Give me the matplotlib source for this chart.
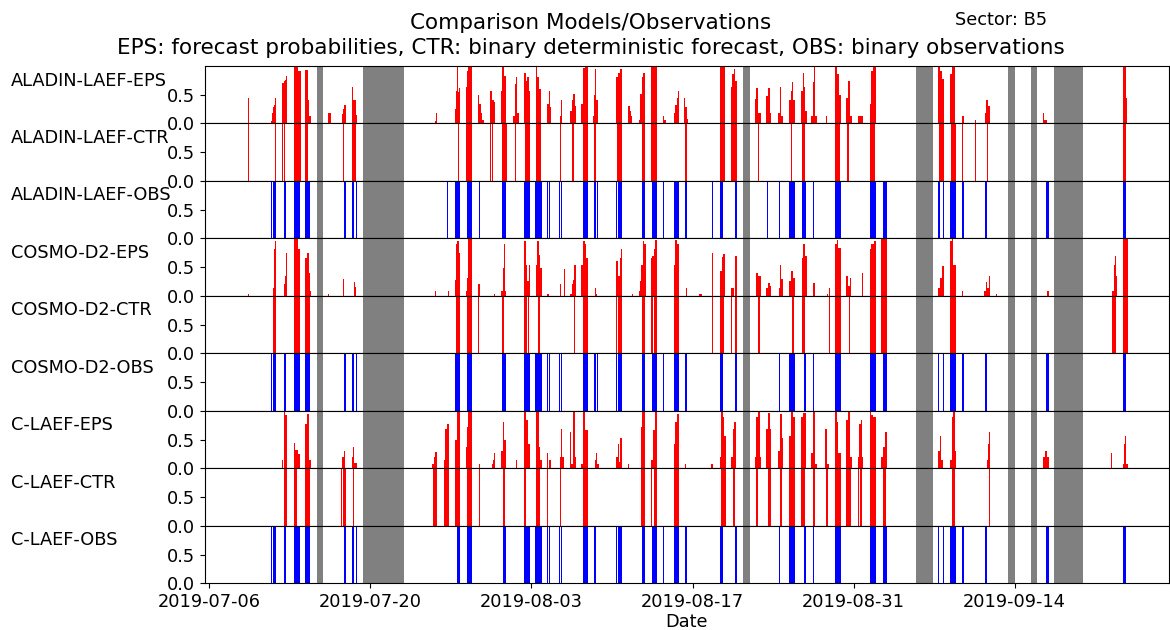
import matplotlib
matplotlib.use('Agg')
import matplotlib.pyplot as plt
import matplotlib.dates as mdates
from datetime import datetime

# ---------------- data (hours since 2019-07-06 00:00) ----------------
START = datetime(2019, 7, 6)

ROW_NAMES = ["ALADIN-LAEF-EPS", "ALADIN-LAEF-CTR", "ALADIN-LAEF-OBS",
             "COSMO-D2-EPS", "COSMO-D2-CTR", "COSMO-D2-OBS",
             "C-LAEF-EPS", "C-LAEF-CTR", "C-LAEF-OBS"]

XTICK_DATES = ["2019-07-06", "2019-07-20", "2019-08-03",
               "2019-08-17", "2019-08-31", "2019-09-14"]

# missing-data periods (start hour, end hour)
GAPS = [(224, 238), (320, 406), (1114, 1127), (1475, 1510),
        (1666, 1680), (1715, 1727), (1763, 1822)]

# EPS: (start hour, end hour, probability)
ALADIN_EPS = [
    (81, 82, 0.44), (84, 85, 0.13), (87, 88, 0.13),
    (128, 131, 0.05), (131, 133, 0.19), (133, 135, 0.28), (135, 137, 0.33), (137, 140, 0.44),
    (152, 155, 0.70), (155, 158, 0.74), (158, 160, 0.76), (160, 163, 0.82),
    (176, 186, 1.0), (186, 191, 0.92),
    (200, 205, 0.93), (205, 208, 0.40), (208, 212, 0.13),
    (247, 253, 0.19),
    (276, 278, 0.17), (278, 280, 0.26), (280, 282, 0.44), (282, 286, 0.33),
    (297, 299, 0.63), (299, 305, 0.40), (305, 309, 0.15),
    (471, 473, 0.05), (473, 476, 0.18), (497, 498, 0.13),
    (512, 515, 0.25), (515, 517, 0.57), (517, 519, 0.98), (519, 520, 0.55), (520, 523, 0.62),
    (535, 538, 0.63), (538, 540, 0.92), (540, 549, 1.0),
    (561, 563, 0.5), (563, 566, 0.34), (566, 569, 0.19), (569, 572, 0.06),
    (586, 589, 0.57), (589, 593, 0.40), (593, 596, 0.37),
    (609, 611, 0.57), (611, 614, 1.0), (614, 619, 0.83),
    (634, 637, 0.13), (637, 640, 0.69), (640, 641, 0.80), (641, 645, 0.19),
    (657, 660, 0.87), (660, 663, 0.74), (663, 666, 0.80), (666, 669, 0.57),
    (681, 684, 0.98), (684, 687, 0.8), (687, 692, 0.6),
    (705, 708, 0.34), (708, 710, 0.57), (710, 713, 0.28),
    (732, 734, 0.13), (734, 735, 0.4),
    (753, 756, 0.22), (756, 758, 0.40), (758, 759, 0.95), (759, 762, 0.51), (762, 765, 0.31),
    (776, 779, 0.34), (779, 784, 0.97), (784, 790, 1.0),
    (800, 803, 0.13), (803, 805, 0.5), (805, 807, 0.95), (807, 811, 0.40),
    (849, 852, 0.80), (852, 856, 0.87), (856, 861, 0.95),
    (873, 877, 0.31), (877, 880, 0.22), (880, 882, 0.13),
    (896, 899, 0.06), (899, 902, 0.51), (902, 905, 0.80), (905, 909, 0.87),
    (922, 934, 1.0),
    (947, 949, 0.13), (949, 952, 0.06),
    (969, 972, 0.19), (972, 975, 0.33), (975, 978, 0.45), (978, 980, 0.57),
    (991, 993, 0.45), (993, 996, 0.28), (996, 998, 0.08),
    (1066, 1075, 1.0),
    (1089, 1091, 0.63), (1091, 1094, 0.86), (1094, 1097, 0.95), (1097, 1101, 0.74),
    (1138, 1141, 0.42), (1141, 1145, 0.62), (1145, 1150, 0.19),
    (1162, 1165, 0.48), (1165, 1169, 0.62), (1169, 1171, 0.19),
    (1186, 1190, 0.19), (1190, 1193, 0.63), (1193, 1197, 0.13),
    (1210, 1213, 0.40), (1213, 1215, 0.57), (1215, 1218, 0.72), (1218, 1221, 0.40),
    (1235, 1238, 0.57), (1238, 1240, 0.87), (1240, 1243, 0.63), (1243, 1246, 0.22),
    (1256, 1259, 0.13), (1259, 1262, 0.72), (1262, 1263, 1.0), (1263, 1267, 0.13),
    (1286, 1289, 0.13),
    (1305, 1310, 1.0), (1310, 1314, 0.86), (1314, 1318, 0.5),
    (1329, 1333, 0.45), (1333, 1336, 0.74), (1336, 1340, 0.13),
    (1354, 1357, 0.13), (1357, 1358, 0.28), (1358, 1364, 0.13),
    (1378, 1381, 0.34), (1381, 1385, 0.92), (1385, 1390, 0.99),
    (1521, 1524, 0.98), (1524, 1529, 0.92), (1529, 1532, 0.77),
    (1545, 1549, 0.86), (1549, 1556, 0.99),
    (1570, 1571, 0.74), (1571, 1574, 0.13),
    (1598, 1599, 0.06), (1599, 1600, 0.19),
    (1619, 1621, 0.19), (1621, 1624, 0.40), (1624, 1625, 0.70), (1625, 1629, 0.31),
    (1643, 1644, 0.13),
    (1739, 1741, 0.19), (1741, 1747, 0.06), (1747, 1748, 0.19),
    (1905, 1912, 1.0), (1912, 1913, 0.89), (1913, 1915, 0.45),
]

ALADIN_CTR = [
    (81, 82), (137, 140), (152, 153), (155, 158), (159, 160), (176, 191), (200, 206),
    (279, 281), (297, 307),
    (514, 515), (518, 521), (535, 549), (586, 587), (590, 591), (610, 620), (638, 639),
    (659, 669), (682, 692), (708, 709), (732, 733), (757, 761), (780, 789),
    (802, 807), (851, 861), (902, 909), (922, 933), (979, 980), (992, 997),
    (1066, 1076), (1089, 1100), (1145, 1146),
    (1214, 1216), (1236, 1242), (1305, 1315), (1331, 1334), (1357, 1358), (1379, 1389),
    (1523, 1532), (1547, 1557), (1570, 1573),
    (1598, 1599), (1623, 1625), (1905, 1912),
]

ALADIN_OBS = [
    (129, 130), (133, 140), (151, 152), (155, 161), (177, 189), (200, 211), (280, 285),
    (298, 302), (307, 308),
    (496, 497), (513, 523), (538, 549), (562, 564), (610, 619), (657, 666), (667, 668),
    (680, 693), (705, 707), (709, 710), (729, 731), (734, 735), (780, 789),
    (803, 806), (809, 810), (849, 850), (853, 861), (900, 901), (902, 909), (924, 934),
    (947, 948), (969, 980), (992, 997), (1021, 1022), (1049, 1050), (1066, 1071),
    (1096, 1101), (1144, 1145), (1163, 1165), (1189, 1190),
    (1210, 1221), (1236, 1240), (1241, 1245), (1257, 1258), (1260, 1261), (1305, 1318),
    (1334, 1335), (1357, 1358), (1378, 1390), (1406, 1413), (1521, 1525), (1531, 1532),
    (1546, 1557), (1571, 1575),
    (1619, 1622), (1745, 1751), (1905, 1912), (1914, 1915),
]

COSMO_EPS = [
    (81, 83, 0.03),
    (133, 135, 0.14), (135, 137, 0.81), (137, 140, 0.95),
    (155, 158, 0.2), (158, 160, 0.34), (161, 162, 0.75),
    (177, 186, 1.0), (186, 190, 0.81),
    (200, 204, 0.66), (204, 208, 0.75), (208, 211, 0.40), (211, 213, 0.08),
    (248, 249, 0.03), (279, 280, 0.3), (302, 304, 0.24), (304, 307, 0.15),
    (471, 473, 0.09), (497, 499, 0.09),
    (512, 515, 0.28), (515, 517, 0.90), (517, 520, 0.95), (520, 523, 0.75),
    (535, 538, 0.09), (538, 540, 0.31), (540, 549, 1.0),
    (561, 564, 0.2), (593, 596, 0.03),
    (609, 612, 0.08), (612, 614, 0.49), (614, 616, 0.90), (616, 619, 0.08),
    (657, 660, 0.95), (660, 662, 0.54), (662, 666, 0.26), (666, 669, 0.54),
    (681, 684, 0.54), (684, 687, 0.95), (687, 690, 0.72), (690, 693, 0.49),
    (705, 709, 0.03), (708, 709, 0.2), (732, 734, 0.2), (740, 741, 0.46),
    (753, 756, 0.03), (756, 758, 0.2), (758, 761, 0.28), (761, 765, 0.54),
    (776, 780, 0.54), (780, 783, 0.95), (783, 786, 0.9), (786, 790, 0.66),
    (804, 807, 0.14), (807, 809, 0.03),
    (849, 852, 0.60), (852, 856, 0.34), (856, 859, 0.66), (859, 861, 0.81),
    (882, 883, 0.03),
    (896, 899, 0.08), (899, 901, 0.26), (901, 904, 0.54), (904, 907, 0.95), (907, 910, 0.90),
    (922, 924, 0.66), (924, 927, 0.69), (927, 930, 0.81), (930, 934, 0.98),
    (969, 972, 0.54), (972, 975, 0.98), (975, 979, 0.90),
    (994, 996, 0.14), (1021, 1027, 0.03), (1049, 1050, 0.75),
    (1066, 1069, 0.43), (1069, 1072, 0.67), (1072, 1076, 0.73),
    (1089, 1094, 0.14), (1096, 1101, 0.69),
    (1141, 1144, 0.40), (1144, 1150, 0.34),
    (1162, 1165, 0.14), (1165, 1169, 0.23), (1169, 1172, 0.17),
    (1188, 1190, 0.14), (1190, 1192, 0.54), (1192, 1197, 0.30),
    (1210, 1213, 0.26), (1213, 1217, 0.43), (1217, 1221, 0.31),
    (1236, 1239, 0.66), (1239, 1243, 0.90), (1243, 1246, 0.69),
    (1260, 1263, 0.23), (1289, 1290, 0.03), (1293, 1294, 0.13),
    (1305, 1309, 0.9), (1309, 1312, 0.97), (1312, 1318, 0.84),
    (1329, 1333, 0.34), (1333, 1336, 0.17), (1336, 1339, 0.31),
    (1362, 1364, 0.40),
    (1378, 1381, 0.81), (1381, 1386, 0.90), (1386, 1390, 0.95),
    (1401, 1413, 1.0),
    (1521, 1525, 0.13), (1525, 1529, 0.31), (1529, 1532, 0.52),
    (1545, 1549, 0.95), (1549, 1552, 1.0), (1552, 1557, 0.54),
    (1570, 1573, 0.08),
    (1617, 1620, 0.09), (1620, 1622, 0.24), (1622, 1626, 0.13), (1626, 1629, 0.34),
    (1641, 1643, 0.03), (1747, 1751, 0.08),
    (1883, 1887, 0.08), (1887, 1889, 0.54), (1889, 1891, 0.69), (1891, 1893, 0.34),
    (1905, 1916, 1.0),
]

COSMO_CTR = [
    (133, 140), (162, 163), (177, 190), (200, 211),
    (514, 523), (538, 549), (561, 563), (611, 615), (657, 662), (665, 666), (685, 690),
    (761, 762), (780, 790),
    (849, 850), (852, 860), (903, 908), (922, 926), (928, 933), (969, 979), (1049, 1050),
    (1066, 1073), (1089, 1090), (1096, 1101), (1145, 1149), (1190, 1191),
    (1209, 1210), (1216, 1219), (1236, 1243), (1293, 1294), (1305, 1318), (1328, 1329),
    (1335, 1336), (1378, 1390), (1401, 1413), (1545, 1557),
    (1618, 1619), (1883, 1891), (1905, 1916),
]

COSMO_OBS = [
    (129, 130), (133, 140), (151, 152), (155, 161), (177, 189), (200, 211), (282, 285),
    (298, 302), (307, 308),
    (513, 523), (538, 549), (562, 563), (611, 619), (657, 666), (667, 668), (680, 693),
    (705, 707), (709, 710), (729, 731), (734, 735), (780, 789),
    (803, 806), (809, 810), (849, 850), (853, 861), (900, 901), (902, 909), (924, 934),
    (947, 948), (969, 980), (992, 997), (1021, 1022), (1066, 1071), (1096, 1101),
    (1163, 1164), (1189, 1190),
    (1210, 1221), (1240, 1245), (1257, 1258), (1260, 1261), (1305, 1318), (1334, 1335),
    (1357, 1358), (1378, 1390), (1406, 1413), (1521, 1522), (1531, 1532), (1546, 1557),
    (1571, 1575),
    (1619, 1622), (1745, 1751), (1905, 1912), (1914, 1915),
]

CLAEF_EPS = [
    (152, 154, 0.14), (155, 158, 1.0), (158, 163, 0.93),
    (177, 179, 0.44), (179, 184, 0.32), (184, 186, 0.77), (186, 189, 0.25),
    (200, 204, 0.77), (204, 208, 0.94), (208, 213, 0.14),
    (277, 280, 0.2), (280, 284, 0.31),
    (297, 302, 0.2), (300, 301, 0.38), (305, 306, 0.38), (302, 309, 0.1),
    (465, 468, 0.08), (468, 471, 0.2), (471, 474, 0.28), (474, 476, 0.37),
    (489, 492, 0.14), (492, 495, 0.69), (495, 499, 0.77),
    (512, 516, 0.49), (516, 523, 1.0),
    (535, 538, 0.37), (538, 540, 0.72), (540, 549, 1.0),
    (562, 565, 0.08),
    (589, 591, 0.08), (591, 594, 0.14), (594, 596, 0.26),
    (609, 612, 0.31), (612, 614, 0.81), (614, 615, 0.98), (615, 619, 0.49),
    (639, 641, 0.14),
    (657, 661, 1.0), (661, 664, 0.84), (664, 669, 0.43),
    (681, 687, 1.0), (687, 690, 0.37), (690, 693, 0.14),
    (705, 706, 0.26), (709, 712, 0.14),
    (732, 734, 0.2), (734, 735, 0.69), (736, 740, 0.2),
    (753, 755, 0.63), (755, 759, 0.08), (759, 762, 0.98), (762, 765, 0.2),
    (776, 779, 0.08), (779, 784, 1.0), (784, 790, 0.67),
    (804, 807, 0.14), (807, 809, 0.26), (809, 812, 0.08),
    (849, 852, 0.2), (852, 855, 0.43), (855, 857, 0.11), (857, 861, 0.52),
    (873, 875, 0.08),
    (900, 902, 0.72), (902, 909, 1.0),
    (922, 925, 0.14), (925, 929, 0.66), (929, 934, 1.0),
    (969, 972, 0.43), (972, 976, 0.81), (976, 979, 0.95),
    (992, 994, 0.08), (1047, 1050, 0.08),
    (1066, 1068, 0.2), (1068, 1071, 1.0), (1071, 1074, 0.9), (1074, 1077, 0.57),
    (1089, 1092, 0.2), (1092, 1094, 0.69), (1094, 1099, 0.81),
    (1138, 1141, 0.2), (1141, 1145, 0.9), (1145, 1148, 1.0), (1148, 1150, 0.2),
    (1162, 1165, 0.69), (1165, 1169, 0.96), (1169, 1172, 0.69),
    (1186, 1190, 0.31), (1190, 1194, 0.95), (1194, 1197, 0.52),
    (1210, 1213, 0.57), (1213, 1217, 1.0), (1217, 1221, 0.9),
    (1234, 1238, 0.9), (1238, 1245, 0.96),
    (1256, 1260, 0.26), (1260, 1263, 0.98), (1263, 1267, 0.08),
    (1284, 1288, 0.69), (1288, 1293, 0.08),
    (1305, 1309, 1.0), (1309, 1312, 0.81), (1312, 1318, 0.26),
    (1329, 1333, 0.84), (1333, 1336, 0.98), (1336, 1340, 0.2),
    (1354, 1356, 0.2), (1356, 1359, 0.77), (1359, 1361, 0.84), (1361, 1364, 0.2),
    (1378, 1381, 0.98), (1381, 1385, 0.92), (1385, 1390, 0.9),
    (1402, 1406, 0.2), (1406, 1409, 0.37), (1409, 1413, 0.63),
    (1521, 1524, 0.31), (1524, 1527, 0.57), (1527, 1531, 0.14),
    (1545, 1549, 0.14), (1549, 1552, 0.9), (1552, 1556, 0.98), (1556, 1557, 0.31),
    (1622, 1624, 0.14), (1624, 1627, 0.43), (1627, 1629, 0.63),
    (1740, 1744, 0.2), (1744, 1747, 0.31), (1747, 1751, 0.2),
    (1881, 1884, 0.26),
    (1905, 1908, 0.08), (1908, 1911, 0.43), (1911, 1912, 0.57), (1912, 1916, 0.08),
]

CLAEF_CTR = [
    (156, 163), (177, 178), (179, 180), (181, 182), (200, 210), (275, 276), (278, 285),
    (300, 301),
    (466, 476), (490, 499), (512, 523), (538, 549), (562, 565), (612, 616), (657, 661),
    (668, 669), (681, 690), (705, 706), (732, 733), (760, 761), (780, 790),
    (901, 909), (922, 923), (928, 934), (970, 979), (1068, 1077), (1093, 1096),
    (1141, 1142), (1143, 1144), (1165, 1171), (1190, 1195),
    (1210, 1221), (1234, 1243), (1260, 1263), (1286, 1290), (1305, 1317), (1329, 1338),
    (1354, 1355), (1357, 1361), (1378, 1390), (1406, 1411), (1550, 1556),
    (1627, 1628),
]

CLAEF_OBS = [
    (129, 130), (133, 140), (151, 152), (155, 161), (177, 189), (200, 211), (282, 285),
    (298, 302), (307, 308),
    (514, 515), (516, 523), (538, 549), (562, 563), (612, 619), (657, 666), (667, 668),
    (680, 693), (705, 707), (709, 710), (729, 731), (734, 735), (780, 789),
    (803, 806), (849, 850), (853, 861), (900, 901), (902, 909), (924, 934), (947, 948),
    (969, 980), (992, 997), (1021, 1022), (1066, 1071), (1096, 1101), (1163, 1164),
    (1189, 1190),
    (1210, 1221), (1240, 1245), (1257, 1258), (1260, 1261), (1305, 1318), (1334, 1335),
    (1357, 1358), (1378, 1390), (1406, 1413), (1521, 1522), (1531, 1532), (1546, 1557),
    (1571, 1575),
    (1619, 1622), (1745, 1751), (1905, 1912), (1914, 1915),
]

TITLE_1 = "Comparison Models/Observations"
TITLE_2 = "EPS: forecast probabilities, CTR: binary deterministic forecast, OBS: binary observations"
SECTOR = "Sector: B5"

# ---------------- figure ----------------
FS = 12.8
W, H = 1170, 630
fig = plt.figure(figsize=(W / 100, H / 100), dpi=100)
left, right, top, bottom = 204.7 / W, 1168.5 / W, 1 - 66 / H, 1 - 583.3 / H
axes = fig.subplots(9, 1, sharex=True)
fig.subplots_adjust(left=left, right=right, top=top, bottom=bottom, hspace=0)

base = mdates.date2num(START)


def hx(h):
    return base + h / 24.0


rows = [(ALADIN_EPS, 'eps', 'red'), (ALADIN_CTR, 'bin', 'red'), (ALADIN_OBS, 'bin', 'blue'),
        (COSMO_EPS, 'eps', 'red'), (COSMO_CTR, 'bin', 'red'), (COSMO_OBS, 'bin', 'blue'),
        (CLAEF_EPS, 'eps', 'red'), (CLAEF_CTR, 'bin', 'red'), (CLAEF_OBS, 'bin', 'blue')]

row_h = (top - bottom) / 9
for i, (ax, name, (data, kind, col)) in enumerate(zip(axes, ROW_NAMES, rows)):
    for g0, g1 in GAPS:
        ax.axvspan(hx(g0), hx(g1), color='grey', lw=0, zorder=1)
    if kind == 'eps':
        xs = [hx(a) for a, b, v in data]
        ws = [(b - a) / 24.0 for a, b, v in data]
        hs = [v for a, b, v in data]
    else:
        xs = [hx(a) for a, b in data]
        ws = [(b - a) / 24.0 for a, b in data]
        hs = [1.0 for a, b in data]
    ax.bar(xs, hs, width=ws, align='edge', color=col, linewidth=0, zorder=2)
    ax.set_ylim(0, 1)
    ax.set_yticks([0, 0.5])
    ax.set_yticklabels(['0.0', '0.5'], fontsize=FS)
    if i < 8:
        ax.tick_params(axis='x', bottom=False, labelbottom=False)
    row_top = top - i * row_h
    fig.text(10.5 / W, row_top - 14.5 / H, name, fontsize=FS, ha='left', va='center')

axes[-1].set_xlim(base - 0.4, base + 83.37)
tick_pos = [mdates.date2num(datetime.strptime(d, "%Y-%m-%d")) for d in XTICK_DATES]
axes[-1].set_xticks(tick_pos)
axes[-1].set_xticklabels(XTICK_DATES, fontsize=FS)

ax_cx = (left + right) / 2
fig.text(ax_cx, 1 - 627 / H, "Date", fontsize=FS, ha='center', va='baseline')

fig.text(0.505, 1 - 29 / H, TITLE_1, fontsize=15.5, ha='center', va='baseline')
fig.text(0.505, 1 - 54 / H, TITLE_2, fontsize=15.5, ha='center', va='baseline')
fig.text(955 / W, 1 - 20 / H, SECTOR, fontsize=FS, ha='left', va='center')

fig.savefig('out.png', dpi=100)
